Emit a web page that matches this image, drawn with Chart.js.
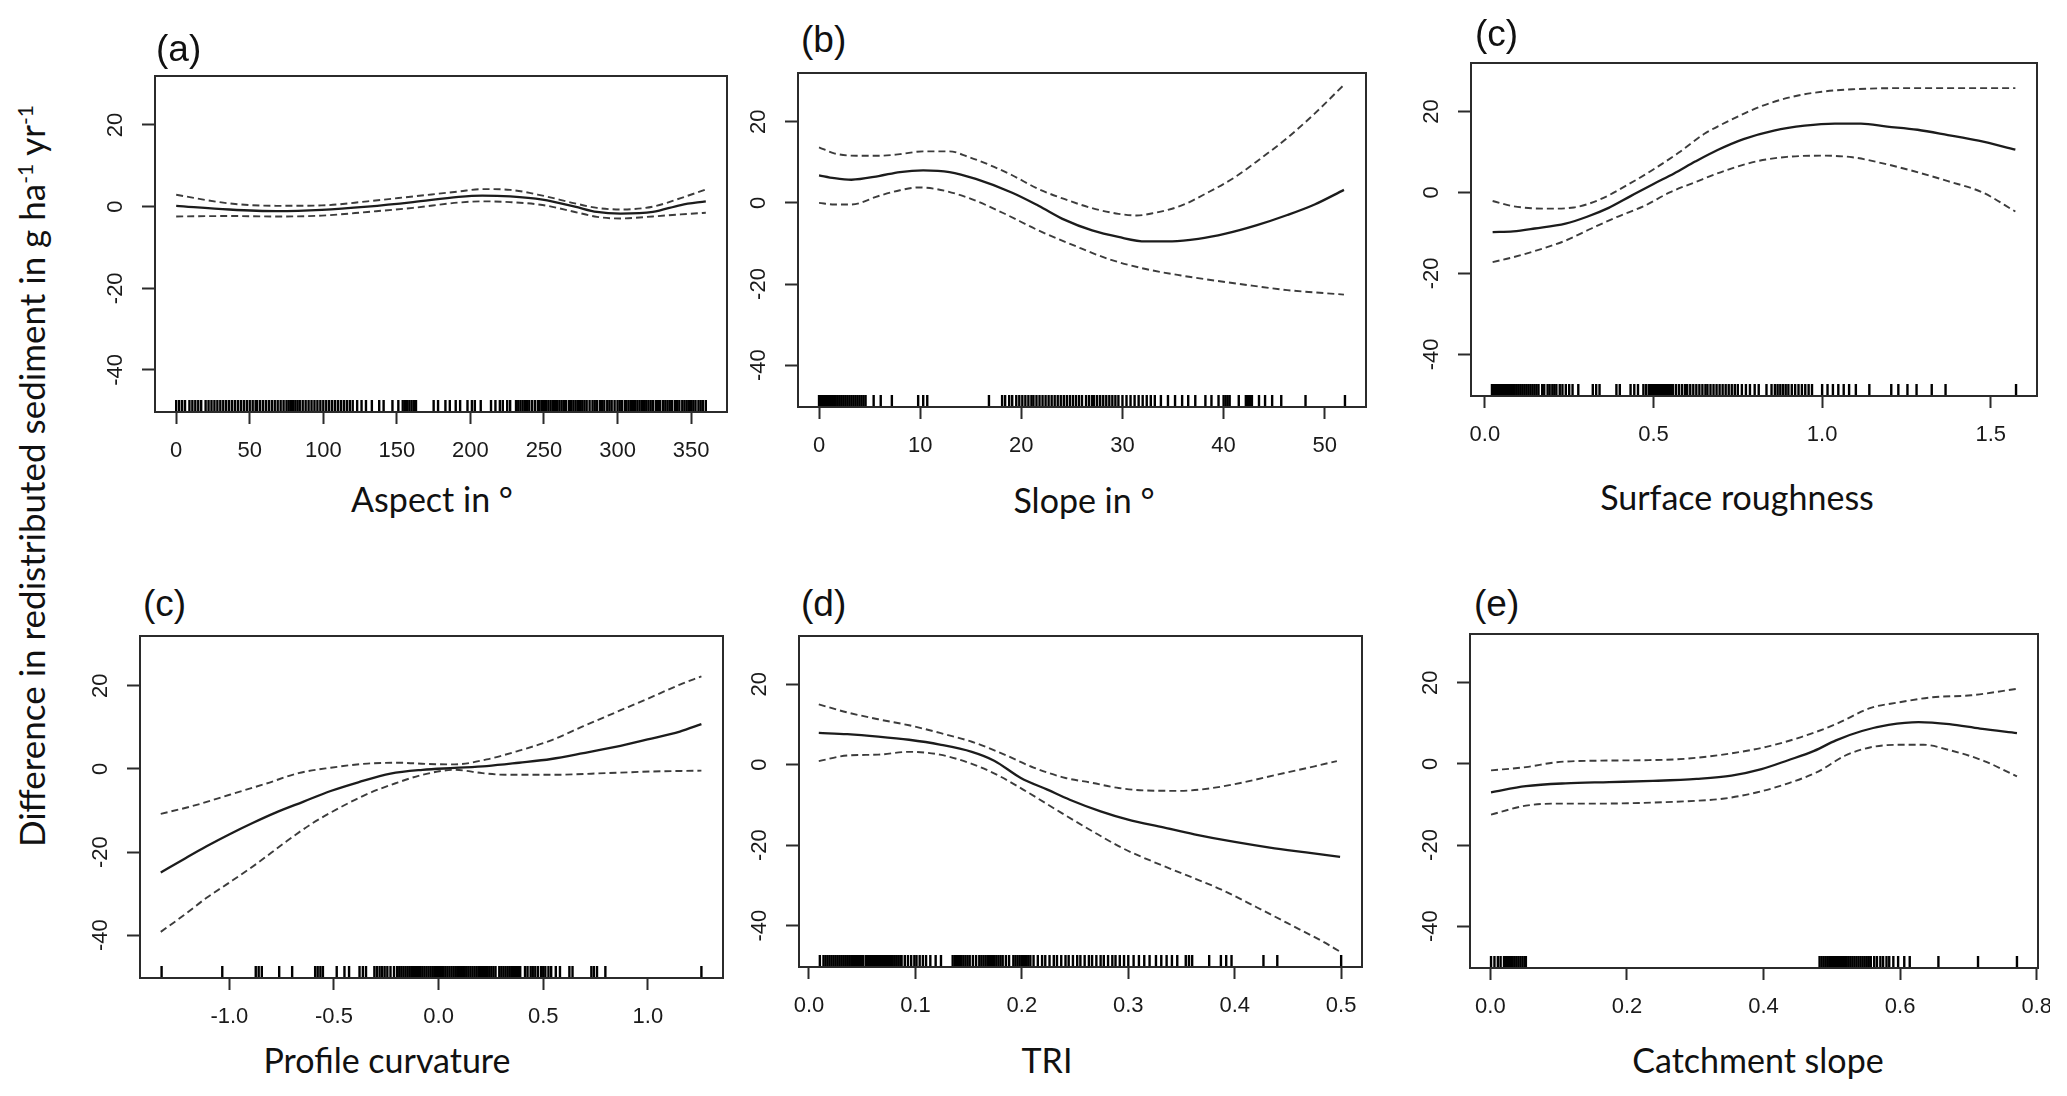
<!DOCTYPE html>
<html>
<head>
<meta charset="utf-8">
<script src="https://cdn.jsdelivr.net/npm/chart.js@4.4.1/dist/chart.umd.min.js"></script>
<style>
    html, body { margin: 0; padding: 0; background: #fff; overflow: hidden; }
    #fig { position: relative; width: 2067px; height: 1096px; background: #fff; overflow: hidden; }
    #fig canvas { position: absolute; }
    .tag { position: absolute; font-family: "Liberation Sans", Arial, sans-serif; font-size: 37px; line-height: 37px; color: #111; white-space: nowrap; }
    .axis-name { position: absolute; font-family: Lato, "Open Sans", sans-serif; font-size: 34px; line-height: 34px; color: #111; white-space: nowrap; transform: translateX(-50%); }
    #ytitle { position: absolute; left: 31px; top: 476px; font-family: Lato, "Open Sans", sans-serif; font-size: 35px; line-height: 35px; color: #111; white-space: nowrap; transform: translate(-50%, -50%) rotate(-90deg); }
    #ytitle sup { font-size: 0.6em; vertical-align: 0.55em; line-height: 0; }
</style>
</head>
<body>
<div id="fig">
    <div id="ytitle">Difference in redistributed sediment in g ha<sup>-1</sup> yr<sup>-1</sup></div>
</div>
<script>
// shared y axis
const Y_MIN = -50.3;
const Y_MAX = 32;
const yTicks = [-40, -20, 0, 20];
const yTickLabels = ["-40", "-20", "0", "20"];

// (a) aspect
const aspectTicks = [0, 50, 100, 150, 200, 250, 300, 350];
const aspectTickLabels = ["0", "50", "100", "150", "200", "250", "300", "350"];
const aspectX = [0, 36, 68, 99, 130, 161, 192, 208, 227, 249, 271, 286, 302, 324, 343, 360];
const aspectFit = [0.2, -0.7, -1.1, -0.8, 0, 1.1, 2.4, 2.7, 2.5, 1.7, 0, -1.3, -1.7, -1.3, 0.4, 1.3];
const aspectUpper = [2.9, 0.8, 0.2, 0.3, 1.3, 2.5, 3.7, 4.3, 4.1, 2.7, 0.8, -0.3, -0.7, 0, 2.1, 4.2];
const aspectLower = [-2.4, -2.3, -2.4, -2.2, -1.3, -0.3, 1.0, 1.3, 1.1, 0.4, -1.3, -2.5, -2.9, -2.4, -1.9, -1.5];
const aspectRug = [0, 2, 4, 6, 9, 11, 13, 15, 17, 20, 22, 24, 26, 28, 30, 32, 34, 36, 38, 40, 42, 44, 46, 48, 50,
    52, 54, 55, 57, 59, 61, 63, 65, 67, 69, 71, 73, 75, 76.5, 78, 79.5, 81, 82.5, 84, 86, 88, 90, 92, 94, 96, 98,
    100, 102, 104, 106, 108, 110, 112, 114, 116, 118, 120, 123, 126, 129, 133, 138, 141, 147, 151, 154, 155.5, 157,
    158.5, 160, 161.5, 163, 175, 178, 183, 186, 190, 193, 198, 201, 203, 207, 214, 217, 220, 222, 225, 227, 231,
    232.5, 234, 235.5, 237, 238.5, 240, 242, 244, 246, 247, 248.5, 250, 251.5, 253, 254.5, 256, 257.5, 259, 260.5,
    262, 263.5, 265, 267, 268.5, 270, 271.5, 273, 274.5, 276, 277.5, 279, 281, 283, 284.5, 286, 288, 289.5, 291,
    293, 294.5, 296, 298, 300, 301.5, 303, 305, 306, 307.5, 309, 310.5, 312, 313.5, 315, 316.5, 318, 319.5, 321,
    322.5, 324, 326, 327.5, 329, 331, 332.5, 334, 335.5, 337, 339, 340.5, 342, 344, 345.5, 347, 348.5, 350, 351.5,
    353, 355, 356.5, 358, 360];

// (b) slope
const slopeTicks = [0, 10, 20, 30, 40, 50];
const slopeTickLabels = ["0", "10", "20", "30", "40", "50"];
const slopeFitX = [0, 1.5, 3.2, 5.9, 8, 10.3, 12.9, 15.5, 19.1, 21.7, 24.3, 27, 29.6, 32.3, 34.9, 37.5, 40.2, 43.3, 46.3, 49, 51.9];
const slopeFit = [6.8, 6.1, 5.7, 6.6, 7.6, 8.0, 7.6, 5.9, 2.5, -0.7, -4.2, -6.8, -8.4, -9.5, -9.5, -8.9, -7.6, -5.5, -3.0, -0.4, 3.2];
const slopeUpX = [0, 1.5, 3.7, 5.9, 8, 10.3, 12.9, 14.7, 16.9, 19.1, 21.7, 24.3, 27, 29.6, 31.4, 33.1, 35.8, 38.4, 41.1, 43.7, 46.3, 49, 51.9];
const slopeUp = [13.7, 12.2, 11.6, 11.6, 12.0, 12.7, 12.7, 11.4, 9.3, 6.8, 3.4, 0.9, -1.3, -2.7, -3.1, -2.5, -0.7, 2.5, 6.3, 11, 16, 22, 29.1];
const slopeLoX = [0, 1.5, 3.2, 5.9, 8, 9.8, 11.6, 14.7, 18.2, 21.7, 25.2, 28.7, 32.3, 35.8, 39.3, 42.8, 46.3, 51.9];
const slopeLo = [0, -0.4, -0.4, 1.7, 3.1, 3.8, 3.4, 1.3, -2.5, -6.8, -10.5, -13.9, -16.3, -17.9, -19.2, -20.4, -21.5, -22.6];
const slopeRug = [0, 0.2, 0.4, 0.6, 0.8, 1, 1.2, 1.4, 1.6, 1.8, 2, 2.2, 2.4, 2.6, 2.8, 3, 3.2, 3.4, 3.6, 3.8, 4, 4.2,
    4.4, 4.6, 5.4, 6.1, 7.2, 9.8, 10.3, 10.7, 16.8, 18.1, 18.4, 18.8, 19.1, 19.5, 19.8, 20.1, 20.4, 20.7, 21, 21.2,
    21.5, 21.8, 22.1, 22.4, 22.7, 23, 23.3, 23.6, 23.9, 24.2, 24.5, 24.8, 25.1, 25.4, 25.7, 26, 26.4, 26.7, 27,
    27.2, 27.5, 27.8, 28.1, 28.4, 28.7, 29, 29.3, 29.6, 30, 30.4, 30.8, 31.2, 31.6, 32, 32.4, 32.8, 33.2, 33.8,
    34.5, 35.2, 35.9, 36.5, 37.2, 38.2, 38.8, 39.5, 40, 40.2, 40.4, 40.6, 41.5, 42.2, 42.4, 42.6, 42.8, 43.5, 44.1,
    44.8, 45.7, 48.1, 52];

// (c) surface roughness
const roughTicks = [0, 0.5, 1, 1.5];
const roughTickLabels = ["0.0", "0.5", "1.0", "1.5"];
const roughFitX = [0.023, 0.084, 0.148, 0.239, 0.303, 0.367, 0.432, 0.5, 0.561, 0.625, 0.69, 0.767, 0.857, 0.948, 1.038, 1.115, 1.193, 1.283, 1.373, 1.464, 1.573];
const roughFit = [-9.8, -9.6, -8.9, -7.7, -6.0, -3.8, -0.9, 2.1, 4.7, 7.7, 10.5, 13.2, 15.3, 16.5, 17.0, 17.0, 16.3, 15.5, 14.2, 12.8, 10.6];
const roughUpX = [0.023, 0.084, 0.187, 0.264, 0.342, 0.419, 0.496, 0.574, 0.651, 0.729, 0.819, 0.909, 0.999, 1.09, 1.244, 1.573];
const roughUp = [-2.1, -3.4, -4.0, -3.7, -1.7, 1.7, 5.5, 9.8, 14.5, 17.9, 21.3, 23.6, 24.9, 25.5, 25.8, 25.8];
const roughLoX = [0.023, 0.084, 0.174, 0.239, 0.316, 0.393, 0.471, 0.548, 0.625, 0.716, 0.806, 0.896, 0.999, 1.09, 1.18, 1.27, 1.373, 1.476, 1.573];
const roughLo = [-17.2, -16, -13.8, -11.9, -8.9, -6.0, -3.4, 0, 2.6, 5.5, 7.7, 8.8, 9.1, 8.7, 7.2, 5.3, 2.8, 0, -4.7];
const roughRug = [0.021, 0.027, 0.033, 0.039, 0.045, 0.051, 0.057, 0.063, 0.069, 0.075, 0.081, 0.087, 0.093,
    0.099, 0.105, 0.111, 0.117, 0.123, 0.129, 0.135, 0.141, 0.147, 0.153, 0.159, 0.17, 0.176, 0.186, 0.192, 0.2,
    0.206, 0.212, 0.222, 0.23, 0.24, 0.25, 0.26, 0.277, 0.32, 0.33, 0.34, 0.39, 0.4, 0.432, 0.443, 0.454, 0.47,
    0.478, 0.486, 0.492, 0.498, 0.504, 0.51, 0.516, 0.522, 0.528, 0.534, 0.54, 0.546, 0.552, 0.558, 0.567, 0.576,
    0.585, 0.594, 0.6, 0.609, 0.618, 0.627, 0.636, 0.645, 0.654, 0.66, 0.669, 0.678, 0.687, 0.696, 0.705, 0.714,
    0.723, 0.732, 0.741, 0.75, 0.762, 0.774, 0.786, 0.8, 0.812, 0.835, 0.85, 0.86, 0.868, 0.876, 0.884, 0.892,
    0.9, 0.91, 0.92, 0.93, 0.94, 0.95, 0.96, 0.97, 1.0, 1.016, 1.032, 1.048, 1.064, 1.08, 1.1, 1.14, 1.205, 1.226,
    1.253, 1.28, 1.325, 1.366, 1.575];

// (c) profile curvature
const curvTicks = [-1, -0.5, 0, 0.5, 1];
const curvTickLabels = ["-1.0", "-0.5", "0.0", "0.5", "1.0"];
const curvFitX = [-1.328, -1.218, -1.109, -0.999, -0.889, -0.779, -0.648, -0.516, -0.384, -0.23, -0.077, 0.077, 0.23, 0.384, 0.538, 0.692, 0.845, 0.999, 1.153, 1.256];
const curvFit = [-24.9, -21.7, -18.6, -15.7, -13.0, -10.5, -7.9, -5.3, -3.2, -1.1, -0.2, 0.25, 0.7, 1.5, 2.4, 3.8, 5.3, 7.1, 9.0, 10.8];
const curvUpX = [-1.328, -1.175, -0.999, -0.823, -0.67, -0.516, -0.34, -0.187, -0.055, 0.077, 0.23, 0.384, 0.538, 0.692, 0.845, 0.999, 1.153, 1.256];
const curvUp = [-10.8, -8.9, -6.2, -3.5, -1.0, 0.3, 1.3, 1.5, 1.2, 1.1, 2.3, 4.4, 6.9, 10.3, 13.6, 16.9, 20.3, 22.3];
const curvLoX = [-1.328, -1.218, -1.109, -0.999, -0.867, -0.735, -0.604, -0.472, -0.34, -0.209, -0.077, 0.077, 0.209, 0.318, 0.538, 0.801, 1.021, 1.256];
const curvLo = [-39.2, -35.2, -31, -27.3, -22.7, -17.7, -13.1, -9.3, -6, -3.5, -1.4, -0.2, -1.0, -1.4, -1.4, -1.0, -0.6, -0.4];
const curvRug = [-1.324, -1.034, -0.874, -0.86, -0.845, -0.762, -0.7, -0.59, -0.578, -0.565, -0.553, -0.487, -0.45,
    -0.428, -0.378, -0.362, -0.347, -0.307, -0.295, -0.282, -0.27, -0.258, -0.245, -0.23, -0.213, -0.198, -0.188,
    -0.178, -0.168, -0.158, -0.148, -0.138, -0.128, -0.118, -0.108, -0.098, -0.088, -0.078, -0.068, -0.058, -0.048,
    -0.038, -0.028, -0.018, -0.008, 0.002, 0.012, 0.022, 0.032, 0.042, 0.052, 0.062, 0.072, 0.082, 0.092, 0.102,
    0.112, 0.122, 0.132, 0.142, 0.152, 0.162, 0.172, 0.182, 0.192, 0.202, 0.212, 0.222, 0.232, 0.242, 0.252,
    0.262, 0.272, 0.29, 0.3, 0.31, 0.32, 0.33, 0.34, 0.35, 0.36, 0.37, 0.38, 0.39, 0.413, 0.425, 0.44, 0.45,
    0.462, 0.475, 0.49, 0.5, 0.51, 0.525, 0.538, 0.56, 0.58, 0.625, 0.64, 0.73, 0.742, 0.757, 0.797, 1.256];

// (d) TRI
const triTicks = [0, 0.1, 0.2, 0.3, 0.4, 0.5];
const triTickLabels = ["0.0", "0.1", "0.2", "0.3", "0.4", "0.5"];
const triFitX = [0.0092, 0.036, 0.065, 0.094, 0.123, 0.153, 0.174, 0.199, 0.224, 0.245, 0.274, 0.299, 0.333, 0.362, 0.4, 0.433, 0.467, 0.499];
const triFit = [7.9, 7.6, 7.0, 6.2, 5.0, 3.2, 1.0, -3.3, -6.2, -8.7, -11.6, -13.6, -15.6, -17.3, -19.2, -20.6, -21.8, -22.9];
const triUpX = [0.0092, 0.036, 0.065, 0.094, 0.123, 0.153, 0.182, 0.211, 0.241, 0.266, 0.291, 0.316, 0.349, 0.379, 0.408, 0.441, 0.475, 0.496];
const triUp = [15, 13, 11.3, 9.8, 7.9, 5.7, 2.7, -0.7, -3.3, -4.5, -5.8, -6.4, -6.5, -5.8, -4.4, -2.4, -0.4, 0.9];
const triLoX = [0.0092, 0.036, 0.065, 0.094, 0.123, 0.153, 0.178, 0.207, 0.236, 0.266, 0.295, 0.324, 0.354, 0.387, 0.421, 0.454, 0.483, 0.499];
const triLo = [0.9, 2.3, 2.5, 3.2, 2.5, 0.2, -2.7, -7.1, -11.8, -16.5, -20.8, -24.2, -27.4, -31, -35.5, -40, -44, -46.5];
const triRug = [0.0102, 0.0136, 0.0155, 0.0174, 0.0193, 0.0212, 0.0231, 0.025, 0.0269, 0.0288, 0.0307, 0.0326,
    0.0345, 0.0364, 0.0383, 0.0402, 0.0421, 0.044, 0.0459, 0.0478, 0.0497, 0.051, 0.0535, 0.0554, 0.0573, 0.0592,
    0.0611, 0.063, 0.0649, 0.0668, 0.0687, 0.0706, 0.0725, 0.0744, 0.0763, 0.0782, 0.0801, 0.082, 0.0839, 0.0858,
    0.087, 0.09, 0.093, 0.096, 0.099, 0.101, 0.104, 0.107, 0.11, 0.114, 0.119, 0.124, 0.135, 0.137, 0.139, 0.141,
    0.143, 0.145, 0.147, 0.149, 0.151, 0.154, 0.157, 0.16, 0.162, 0.164, 0.166, 0.168, 0.17, 0.172, 0.174, 0.176,
    0.178, 0.18, 0.182, 0.185, 0.188, 0.192, 0.194, 0.196, 0.198, 0.2, 0.202, 0.204, 0.206, 0.208, 0.211, 0.215,
    0.219, 0.222, 0.226, 0.23, 0.233, 0.237, 0.241, 0.244, 0.248, 0.252, 0.255, 0.259, 0.263, 0.266, 0.27, 0.274,
    0.277, 0.281, 0.285, 0.288, 0.292, 0.296, 0.3, 0.305, 0.31, 0.315, 0.32, 0.326, 0.331, 0.336, 0.341, 0.346,
    0.354, 0.357, 0.36, 0.376, 0.387, 0.392, 0.397, 0.427, 0.44, 0.5];

// (e) catchment slope
const catchTicks = [0, 0.2, 0.4, 0.6, 0.8];
const catchTickLabels = ["0.0", "0.2", "0.4", "0.6", "0.8"];
const catchFitX = [0.001, 0.052, 0.11, 0.174, 0.238, 0.302, 0.353, 0.397, 0.436, 0.474, 0.506, 0.544, 0.583, 0.627, 0.672, 0.717, 0.771];
const catchFit = [-7.0, -5.5, -4.8, -4.5, -4.2, -3.7, -2.9, -1.3, 0.9, 3.2, 5.8, 8.1, 9.6, 10.3, 9.8, 8.7, 7.6];
const catchUpX = [0.001, 0.052, 0.097, 0.161, 0.225, 0.289, 0.353, 0.404, 0.455, 0.506, 0.557, 0.596, 0.647, 0.704, 0.771];
const catchUp = [-1.6, -0.8, 0.4, 0.8, 0.9, 1.3, 2.6, 4.2, 6.6, 9.8, 13.8, 15.1, 16.4, 16.9, 18.5];
const catchLoX = [0.001, 0.052, 0.097, 0.161, 0.225, 0.289, 0.34, 0.391, 0.436, 0.48, 0.519, 0.557, 0.596, 0.634, 0.672, 0.723, 0.771];
const catchLo = [-12.5, -10.3, -9.8, -9.8, -9.6, -9.2, -8.6, -7, -4.8, -1.9, 2, 4.1, 4.7, 4.7, 3.4, 0.7, -3.1];
const catchRug = [0.001, 0.006, 0.011, 0.015, 0.02, 0.023, 0.026, 0.029, 0.032, 0.035, 0.038, 0.041, 0.044, 0.047,
    0.05, 0.052, 0.482, 0.485, 0.488, 0.491, 0.494, 0.497, 0.5, 0.503, 0.506, 0.509, 0.512, 0.515, 0.518, 0.521,
    0.524, 0.527, 0.53, 0.533, 0.536, 0.539, 0.542, 0.545, 0.548, 0.551, 0.554, 0.557, 0.562, 0.566, 0.571, 0.575,
    0.58, 0.584, 0.59, 0.597, 0.606, 0.614, 0.656, 0.714, 0.771];

// page layout: plot box [left, top, right, bottom], tag and axis-name anchors
const Y_AXIS_W = 70;
const X_AXIS_H = 60;
const PAD_TOP = 10;
const RUG_LEN = 12;
const RUG_WIDTH = 2.4;
const AXIS_COLOR = "#2b2b2b";

const panels = [
    { tag: "(a)", name: "Aspect in °", box: [155, 76, 727, 412], tagAt: [156, 30], nameAt: [432, 482],
      ticks: aspectTicks, labels: aspectTickLabels, rug: aspectRug,
      fit: [aspectX, aspectFit], up: [aspectX, aspectUpper], lo: [aspectX, aspectLower] },
    { tag: "(b)", name: "Slope in °", box: [798, 73, 1366, 407], tagAt: [801, 21], nameAt: [1084, 483],
      ticks: slopeTicks, labels: slopeTickLabels, rug: slopeRug,
      fit: [slopeFitX, slopeFit], up: [slopeUpX, slopeUp], lo: [slopeLoX, slopeLo] },
    { tag: "(c)", name: "Surface roughness", box: [1471, 63, 2037, 396], tagAt: [1475, 15], nameAt: [1737, 480],
      ticks: roughTicks, labels: roughTickLabels, rug: roughRug,
      fit: [roughFitX, roughFit], up: [roughUpX, roughUp], lo: [roughLoX, roughLo] },
    { tag: "(c)", name: "Profile curvature", box: [140, 636, 723, 978], tagAt: [143, 585], nameAt: [387, 1043],
      ticks: curvTicks, labels: curvTickLabels, rug: curvRug,
      fit: [curvFitX, curvFit], up: [curvUpX, curvUp], lo: [curvLoX, curvLo] },
    { tag: "(d)", name: "TRI", box: [799, 636, 1362, 967], tagAt: [801, 585], nameAt: [1047, 1043],
      ticks: triTicks, labels: triTickLabels, rug: triRug,
      fit: [triFitX, triFit], up: [triUpX, triUp], lo: [triLoX, triLo] },
    { tag: "(e)", name: "Catchment slope", box: [1470, 634, 2038, 968], tagAt: [1474, 585], nameAt: [1758, 1043],
      ticks: catchTicks, labels: catchTickLabels, rug: catchRug, clipRight: 2050,
      fit: [catchFitX, catchFit], up: [catchUpX, catchUp], lo: [catchLoX, catchLo] },
];

// box around the plot region, like R's box()
const framePlugin = {
    id: "frame",
    afterDatasetsDraw(chart) {
        const { ctx, chartArea } = chart;
        ctx.save();
        ctx.strokeStyle = AXIS_COLOR;
        ctx.lineWidth = 2;
        ctx.strokeRect(chartArea.left, chartArea.top, chartArea.right - chartArea.left, chartArea.bottom - chartArea.top);
        ctx.restore();
    }
};

function toPoints(xs, ys) {
    return xs.map((x, i) => ({ x: x, y: ys[i] }));
}

const fig = document.getElementById("fig");

function addText(cls, text, left, top) {
    const div = document.createElement("div");
    div.className = cls;
    div.textContent = text;
    div.style.left = left + "px";
    div.style.top = top + "px";
    fig.appendChild(div);
}

function drawPanel(p) {
    const [left, top, right, bottom] = p.box;
    const padRight = p.clipRight ? p.clipRight - right : 40;
    const width = right - left + Y_AXIS_W + padRight;
    const height = bottom - top + PAD_TOP + X_AXIS_H;

    const canvas = document.createElement("canvas");
    canvas.width = width;
    canvas.height = height;
    canvas.style.width = width + "px";
    canvas.style.height = height + "px";
    canvas.style.left = (left - Y_AXIS_W) + "px";
    canvas.style.top = (top - PAD_TOP) + "px";
    fig.appendChild(canvas);

    // R pads the x range by 4% of the data range
    const lo = Math.min(...p.rug);
    const hi = Math.max(...p.rug);
    const ext = (hi - lo) * 0.04;
    const rugY = Y_MIN + (RUG_LEN / 2) * (Y_MAX - Y_MIN) / (bottom - top);

    const tickFont = { family: "'Liberation Sans', Arial, sans-serif", size: 22 };
    const gridOpts = { display: true, drawOnChartArea: false, drawTicks: true, tickWidth: 2, tickColor: AXIS_COLOR };

    new Chart(canvas, {
        type: "line",
        data: {
            datasets: [
                { data: toPoints(p.fit[0], p.fit[1]), borderColor: "#1c1c1c", borderWidth: 2.3 },
                { data: toPoints(p.up[0], p.up[1]), borderColor: "#3c3c3c", borderWidth: 1.9, borderDash: [7, 4] },
                { data: toPoints(p.lo[0], p.lo[1]), borderColor: "#3c3c3c", borderWidth: 1.9, borderDash: [7, 4] },
                {
                    type: "scatter",
                    data: p.rug.map(v => ({ x: v, y: rugY })),
                    showLine: false,
                    pointStyle: "line",
                    pointRotation: 90,
                    pointRadius: RUG_LEN / 2,
                    pointBorderWidth: RUG_WIDTH,
                    pointBorderColor: "#000",
                    pointBackgroundColor: "#000",
                    clip: 4,
                },
            ],
        },
        options: {
            responsive: false,
            animation: false,
            events: [],
            layout: { padding: { top: PAD_TOP, right: padRight, bottom: 0, left: 0 } },
            plugins: { legend: { display: false }, tooltip: { enabled: false } },
            elements: {
                point: { radius: 0 },
                line: { cubicInterpolationMode: "monotone", fill: false },
            },
            scales: {
                x: {
                    type: "linear",
                    min: lo - ext,
                    max: hi + ext,
                    afterBuildTicks: scale => { scale.ticks = p.ticks.map(v => ({ value: v })); },
                    afterFit: scale => { scale.height = X_AXIS_H; scale.paddingLeft = 0; scale.paddingRight = 0; },
                    grid: { ...gridOpts, tickLength: 12 },
                    border: { display: false },
                    ticks: {
                        autoSkip: false, minRotation: 0, maxRotation: 0, padding: 14,
                        font: tickFont, color: "#1a1a1a",
                        callback: (value, index) => p.labels[index],
                    },
                },
                y: {
                    type: "linear",
                    min: Y_MIN,
                    max: Y_MAX,
                    afterBuildTicks: scale => { scale.ticks = yTicks.map(v => ({ value: v })); },
                    afterFit: scale => { scale.width = Y_AXIS_W; scale.paddingTop = 0; scale.paddingBottom = 0; },
                    grid: { ...gridOpts, tickLength: 13 },
                    border: { display: false },
                    ticks: {
                        autoSkip: false, minRotation: 90, maxRotation: 90, crossAlign: "center", padding: 10,
                        font: tickFont, color: "#1a1a1a",
                        callback: (value, index) => yTickLabels[index],
                    },
                },
            },
        },
        plugins: [framePlugin],
    });

    addText("tag", p.tag, p.tagAt[0], p.tagAt[1]);
    addText("axis-name", p.name, p.nameAt[0], p.nameAt[1]);
}

panels.forEach(drawPanel);
</script>
</body>
</html>
